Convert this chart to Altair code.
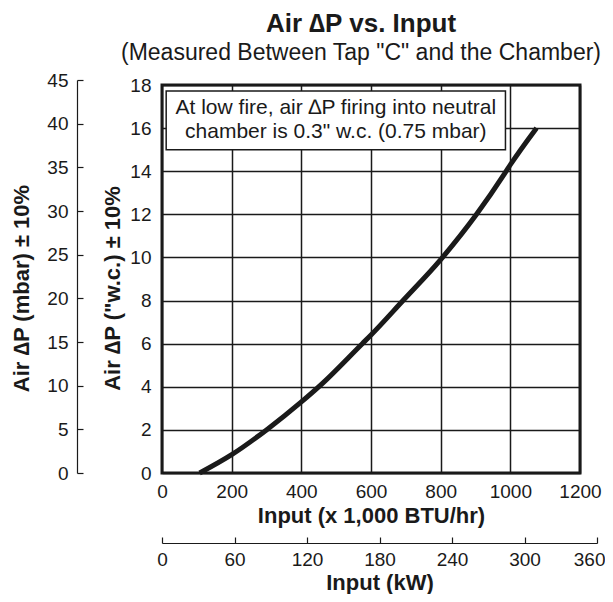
import altair as alt
import pandas as pd

# ---- data ----
btu = [108, 200, 300, 400, 460, 575, 600, 692, 800, 903, 984, 1000, 1075]
wc = [0.0, 0.85, 2.0, 3.3, 4.15, 6.0, 6.4, 8.0, 9.9, 12.0, 13.9, 14.3, 16.0]

btu_ticks = [0, 200, 400, 600, 800, 1000, 1200]
wc_ticks = [0, 2, 4, 6, 8, 10, 12, 14, 16, 18]
mbar_ticks = [0, 5, 10, 15, 20, 25, 30, 35, 40, 45]
kw_ticks = [0, 60, 120, 180, 240, 300, 360]

note_lines = ["At low fire, air \u2206P firing into neutral", 'chamber is 0.3" w.c. (0.75 mbar)']
box_btu = [12, 986]
box_wc = [15.0, 17.72]

W, H = 418, 388
FONT = "Liberation Sans"
INK = "#1a1a1a"

curve_df = pd.DataFrame({"btu": btu, "wc": wc})
box_df = pd.DataFrame({"btu": [box_btu[0]], "btu2": [box_btu[1]],
                       "wc": [box_wc[0]], "wc2": [box_wc[1]]})
note_df = pd.DataFrame({"btu": [sum(box_btu) / 2], "wc": [sum(box_wc) / 2]})
mbar_df = pd.DataFrame({"mbar": mbar_ticks})
kw_df = pd.DataFrame({"kw": kw_ticks})

xs = alt.Scale(domain=[0, 1200], nice=False, zero=False)
ys = alt.Scale(domain=[0, 18], nice=False, zero=False)
XT = "Input (x 1,000 BTU/hr)"
YT = 'Air \u2206P ("w.c.) \u00b1 10%'

x_axis = alt.Axis(values=btu_ticks, format="d", grid=True, ticks=False, domain=False,
                  labelPadding=9, labelFontSize=19, labelFlush=False, labelOverlap=False,
                  labelColor=INK, title=XT, titleFontSize=22, titleFontWeight="bold",
                  titleColor=INK, titleY=49, titleBaseline="alphabetic",
                  gridColor=INK, gridWidth=1.5, gridOpacity=1)
y_axis = alt.Axis(values=wc_ticks, format="d", grid=True, ticks=False, domain=False,
                  labelPadding=11, labelFontSize=19, labelFlush=False, labelOverlap=False,
                  labelColor=INK, title=YT, titleFontSize=22, titleFontWeight="bold",
                  titleColor=INK, titleAngle=270, titleX=-50, titleY=203,
                  titleBaseline="middle", titleAlign="center",
                  gridColor=INK, gridWidth=1.5, gridOpacity=1)

curve = alt.Chart(curve_df).mark_line(color=INK, strokeWidth=5, interpolate="monotone",
                                       strokeCap="butt").encode(
    x=alt.X("btu:Q", scale=xs, axis=x_axis, title=XT),
    y=alt.Y("wc:Q", scale=ys, axis=y_axis, title=YT),
)

box = alt.Chart(box_df).mark_rect(fill="white", stroke=INK, strokeWidth=1.5).encode(
    x=alt.X("btu:Q", scale=xs, title=XT),
    x2="btu2:Q",
    y=alt.Y("wc:Q", scale=ys, title=YT),
    y2="wc2:Q",
)

note = alt.Chart(note_df).mark_text(text=note_lines, font=FONT, fontSize=21, color=INK,
                                     align="center", baseline="middle", lineHeight=24,
                                     dy=-12).encode(
    x=alt.X("btu:Q", scale=xs, title=XT),
    y=alt.Y("wc:Q", scale=ys, title=YT),
)

inner = alt.layer(box, note, curve)

mbar_layer = alt.Chart(mbar_df).mark_point(opacity=0).encode(
    y=alt.Y("mbar:Q", scale=alt.Scale(domain=[0, 45], range=[H, -5], nice=False),
            axis=alt.Axis(orient="right", offset=-(W + 85), values=mbar_ticks,
                          ticks=True, tickSize=6, tickColor=INK, tickWidth=1.2,
                          domain=True, domainColor=INK, domainWidth=1.2, grid=False,
                          labelAlign="right", labelPadding=-15, labelFontSize=19,
                          labelFlush=False, labelOverlap=False, labelColor=INK,
                          title="Air \u2206P (mbar) \u00b1 10%", titleFontSize=22,
                          titleFontWeight="bold", titleColor=INK, titleAngle=270,
                          titleX=-56, titleY=203, titleBaseline="middle",
                          titleAlign="center")),
)

kw_layer = alt.Chart(kw_df).mark_point(opacity=0).encode(
    x=alt.X("kw:Q", scale=alt.Scale(domain=[0, 360], range=[0, 435], nice=False),
            axis=alt.Axis(orient="top", offset=-(H + 70), values=kw_ticks,
                          ticks=True, tickSize=6, tickColor=INK, tickWidth=1.2,
                          domain=True, domainColor=INK, domainWidth=1.2, grid=False,
                          labelBaseline="top", labelPadding=-13, labelFontSize=19,
                          labelAlign=alt.ExprRef(expr="datum.value >= 360 ? 'right' : 'center'"),
                          labelOffset=alt.ExprRef(expr="datum.value >= 360 ? 8 : 0"),
                          labelFlush=False, labelOverlap=False, labelColor=INK,
                          title="Input (kW)", titleFontSize=22, titleFontWeight="bold",
                          titleColor=INK, titleY=46, titleBaseline="alphabetic")),
)

chart = alt.layer(inner, mbar_layer, kw_layer).resolve_scale(
    x="independent", y="independent"
).properties(
    width=W, height=H,
    title=alt.TitleParams(text="Air \u2206P vs. Input",
                          subtitle='(Measured Between Tap "C" and the Chamber)',
                          fontSize=26, fontWeight="bold", subtitleFontSize=23,
                          subtitleFontWeight="normal", color=INK, subtitleColor=INK,
                          anchor="middle", dx=-10, offset=6, subtitlePadding=5),
    autosize=alt.AutoSizeParams(type="none"),
    padding={"left": 154, "top": 77, "right": 25, "bottom": 121},
).configure(font=FONT).configure_view(stroke=INK, strokeWidth=3)

chart.save("out.html", embed_options={"renderer": "svg", "actions": False})
